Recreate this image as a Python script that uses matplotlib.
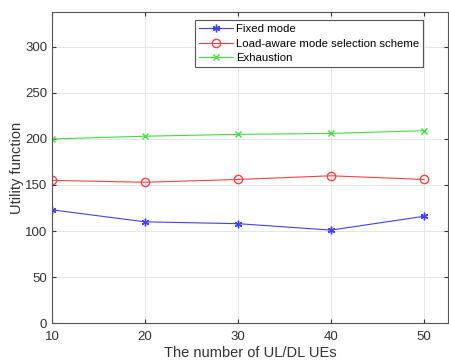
import matplotlib.pyplot as plt

plt.rcParams["font.family"] = ["Liberation Sans", "DejaVu Sans"]

# utility vs number of UL/DL UEs
ues = [10, 20, 30, 40, 50]
fixed_mode = [123, 110, 108, 101, 116]
load_aware = [155, 153, 156, 160, 156]
exhaustion = [200, 203, 205, 206, 209]

fig = plt.figure(figsize=(4.49, 3.61), dpi=100)
ax = fig.add_axes([0.116, 0.105, 0.882, 0.862])

ax.plot(ues, fixed_mode, color="#4040ff", marker=(6, 2, 0), markersize=5.5, linewidth=0.8,
        label="Fixed mode")
ax.plot(ues, load_aware, color="#ff4040", marker="o", markersize=6, linewidth=0.8,
        markerfacecolor="none", label="Load-aware mode selection scheme")
ax.plot(ues, exhaustion, color="#40e040", marker="x", markersize=4.5, linewidth=0.8,
        label="Exhaustion")

ax.set_xlim(10, 52.6)
ax.set_ylim(0, 338)
ax.set_xticks(ues)
ax.set_yticks([0, 50, 100, 150, 200, 250, 300])
ax.grid(True, color="#e6e6e6", linewidth=0.7)
ax.tick_params(direction="in", top=True, right=True, labelsize=9.5, colors="#333333",
               length=3)
ax.tick_params(axis="x", pad=6)
for s in ax.spines.values():
    s.set_color("#555555")
    s.set_linewidth(0.8)

ax.set_xlabel("The number of UL/DL UEs", fontsize=10.5, color="#333333", labelpad=2)
ax.set_ylabel("Utility function", fontsize=10.5, color="#333333", labelpad=1)

leg = ax.legend(loc="upper right", bbox_to_anchor=(0.936, 0.973), fontsize=8.2,
                fancybox=False, framealpha=1, edgecolor="#555555",
                borderpad=0.3, labelspacing=0.42, handlelength=3.0, handletextpad=0.3,
                borderaxespad=0)
leg.get_frame().set_linewidth(0.8)

fig.savefig("out.png", dpi=100)
